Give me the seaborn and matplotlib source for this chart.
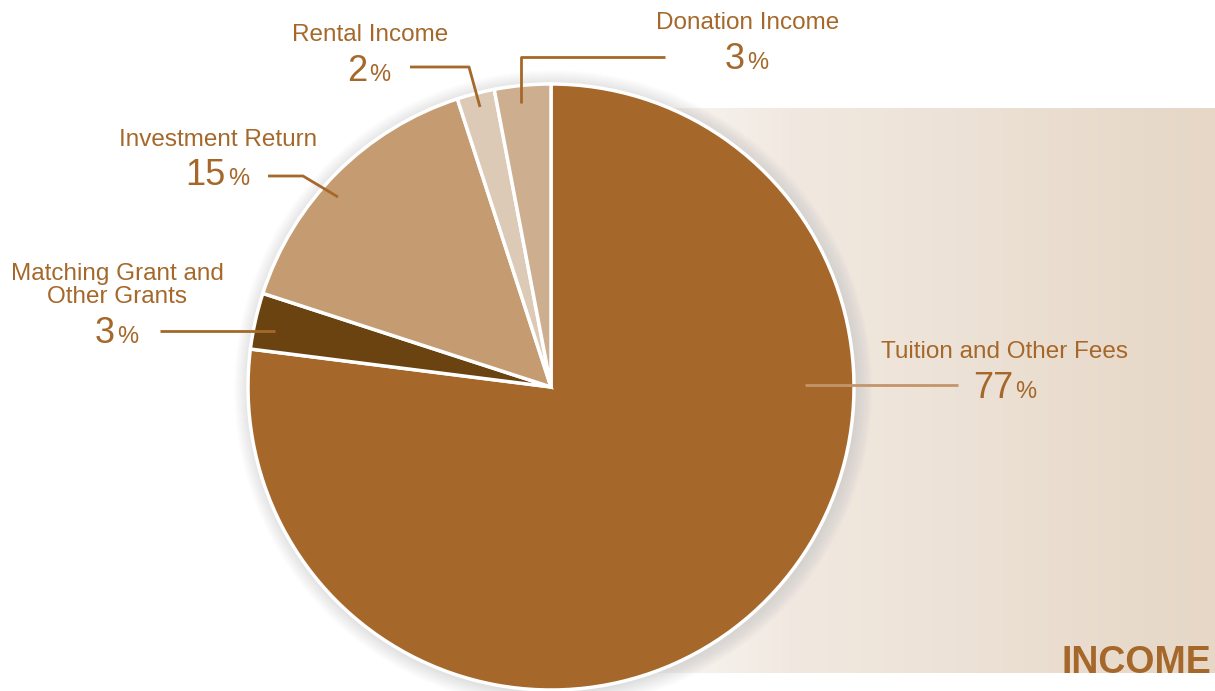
import matplotlib
matplotlib.use("Agg")
import matplotlib.pyplot as plt
import numpy as np
import seaborn as sns
from matplotlib.patches import Circle
from matplotlib.colors import to_rgb

sns.set_theme(style="white")
plt.rcParams['font.family'] = ['Liberation Sans', 'DejaVu Sans']

# ---- data ----
categories = ["Tuition and Other Fees", "Matching Grant and\nOther Grants",
              "Investment Return", "Rental Income", "Donation Income"]
values = [77, 3, 15, 2, 3]
pct_labels = ["77", "3", "15", "2", "3"]
colors = ["#A5682A", "#6A4311", "#C59C72", "#DCCAB6", "#CDAE8F"]

TXT = "#A5682A"
W, H = 1215, 691

fig = plt.figure(figsize=(W / 100, H / 100), dpi=100)
ax = fig.add_axes([0, 0, 1, 1])

def py(y):
    return H - y

# background gradient panel
c0 = np.array(to_rgb("#FFFFFF"))
c1 = np.array(to_rgb("#F1E9E1"))
c2 = np.array(to_rgb("#E6D7C6"))
t = np.linspace(0, 1, 400)
grad = np.zeros((1, 400, 3))
for i, v in enumerate(t):
    if v < 0.35:
        grad[0, i] = c0 + (c1 - c0) * (v / 0.35)
    else:
        grad[0, i] = c1 + (c2 - c1) * ((v - 0.35) / 0.65)
ax.imshow(grad, extent=[560, W, py(673), py(108)], aspect="auto", zorder=0)

cx, cy, R = 551, py(387), 303

# soft shadow
for k in range(16, 0, -1):
    ax.add_patch(Circle((cx + 2, cy - 2), R + k, color="#888888",
                        alpha=0.012, lw=0, zorder=1))

wedges, _ = ax.pie(values, colors=colors, startangle=90, counterclock=False,
                   center=(cx, cy), radius=R,
                   wedgeprops=dict(edgecolor="white", linewidth=2.5, zorder=2))
for w in wedges:
    w.set_zorder(2)

ax.set_xlim(0, W)
ax.set_ylim(0, H)
ax.set_aspect("equal")
ax.axis("off")

# leader lines
lw = 2
ax.plot([805, 958], [py(385), py(385)], color="#C4946A", lw=lw, zorder=3, solid_capstyle="butt")
ax.plot([160, 275], [py(331), py(331)], color=TXT, lw=lw, zorder=3, solid_capstyle="butt")
ax.plot([268, 303, 338], [py(176), py(176), py(197)], color=TXT, lw=lw, zorder=3, solid_capstyle="butt")
ax.plot([410, 469, 480], [py(67), py(67), py(107)], color=TXT, lw=lw, zorder=3, solid_capstyle="butt")
ax.plot([665, 521, 521], [py(57), py(57), py(103)], color=TXT, lw=lw, zorder=3, solid_capstyle="butt")

name_fs = 17.5
num_fs = 26
pc_fs = 17

# name labels: (x, baseline y, ha)
name_pos = [(881, 358, "left"), (117, 303, "center"), (218, 146, "center"),
            (370, 41, "center"), (748, 29, "center")]
num_pos = [(1013, 398), (115, 343), (226, 185), (367, 81), (745, 69)]

for i, cat in enumerate(categories):
    x, y, ha = name_pos[i]
    ax.text(x, py(y), cat, ha=ha, va="baseline", fontsize=name_fs, color=TXT,
            linespacing=1.05, zorder=4)
    nx, ny = num_pos[i]
    ax.text(nx, py(ny), pct_labels[i], ha="right", va="baseline", fontsize=num_fs,
            color=TXT, zorder=4)
    ax.text(nx + 2, py(ny), "%", ha="left", va="baseline", fontsize=pc_fs,
            color=TXT, zorder=4)

ax.text(1211, py(673), "INCOME", ha="right", va="baseline", fontsize=27,
        fontweight="bold", color=TXT, zorder=4)

fig.savefig("out.png", dpi=100)
